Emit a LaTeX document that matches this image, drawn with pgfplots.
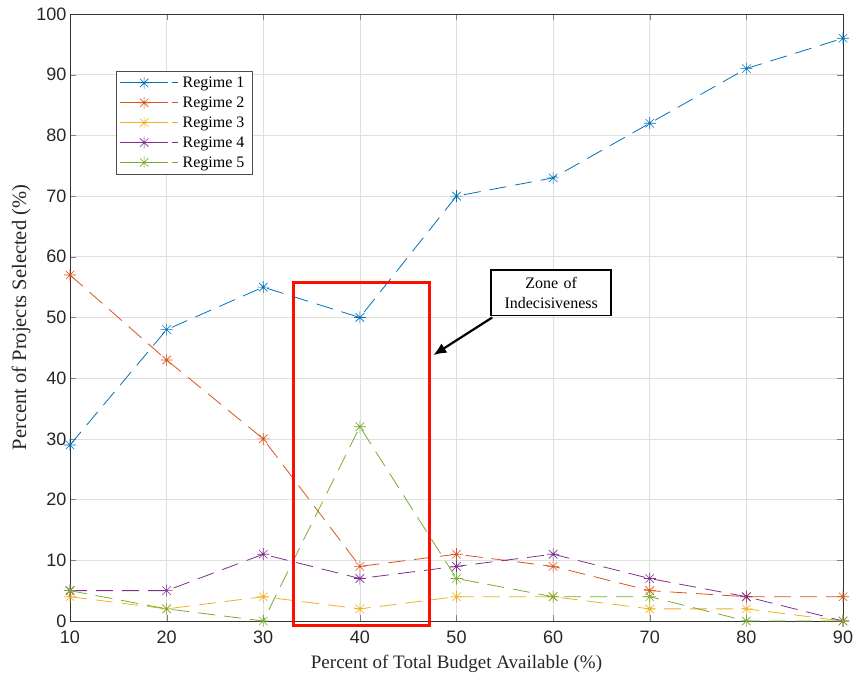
\documentclass[border=0pt]{standalone}
\usepackage{fontspec}
\setmainfont{Liberation Serif}
\setsansfont{Liberation Sans}
\usepackage{pgfplots}
\usetikzlibrary{arrows.meta}
\pgfplotsset{compat=1.18}
\definecolor{c1}{rgb}{0,0.447,0.741}
\definecolor{c2}{rgb}{0.85,0.325,0.098}
\definecolor{c3}{rgb}{0.929,0.694,0.125}
\definecolor{c4}{rgb}{0.494,0.184,0.556}
\definecolor{c5}{rgb}{0.466,0.674,0.188}
\pgfdeclareplotmark{mstar}{%
  \pgfpathmoveto{\pgfqpoint{-\pgfplotmarksize}{0pt}}\pgfpathlineto{\pgfqpoint{\pgfplotmarksize}{0pt}}%
  \pgfpathmoveto{\pgfqpoint{0pt}{-\pgfplotmarksize}}\pgfpathlineto{\pgfqpoint{0pt}{\pgfplotmarksize}}%
  \pgfpathmoveto{\pgfqpoint{-0.707\pgfplotmarksize}{-0.707\pgfplotmarksize}}\pgfpathlineto{\pgfqpoint{0.707\pgfplotmarksize}{0.707\pgfplotmarksize}}%
  \pgfpathmoveto{\pgfqpoint{-0.707\pgfplotmarksize}{0.707\pgfplotmarksize}}\pgfpathlineto{\pgfqpoint{0.707\pgfplotmarksize}{-0.707\pgfplotmarksize}}%
  \pgfusepathqstroke}
\begin{document}
\begin{tikzpicture}
\begin{axis}[
  scale only axis, width=773pt, height=607pt,
  xmin=10, xmax=90, ymin=0, ymax=100,
  xtick={10,20,...,90}, ytick={0,10,...,100},
  grid=major, major grid style={gray!25, line width=0.6pt},
  tick align=inside, major tick length=6pt,
  axis line style={black!80, line width=0.7pt},
  /pgf/number format/assume math mode=true,
  tick label style={font=\sffamily\fontsize{18}{18}\selectfont, black!85},
  xticklabel style={yshift=-6pt},
  xlabel={Percent of Total Budget Available (\%)},
  ylabel={Percent of Projects Selected (\%)},
  xlabel style={font=\fontsize{19}{20}\selectfont, black!85, yshift=-5pt},
  ylabel style={font=\fontsize{20.5}{21}\selectfont, black!85, yshift=-1pt},
  clip=false,
  legend style={at={(0.0595,0.906)}, anchor=north west, draw=black!70, line width=0.6pt,
    font=\fontsize{16}{16}\selectfont, row sep=3.8pt, inner sep=3.5pt,
    nodes={inner xsep=4pt}},
  legend cell align=left,
  every axis plot/.append style={line width=0.8pt, dash pattern=on 17pt off 9pt, mark=mstar, mark size=6pt,
     mark options={solid, line width=0.6pt}},
  legend image code/.code={\draw[mark repeat=2,mark phase=2, solid] plot coordinates {(0pt,0pt) (24pt,0pt) (48pt,0pt)}; \path (0pt,0pt) -- (58pt,0pt);},
]
\addplot[c1] coordinates {(10,29)(20,48)(30,55)(40,50)(50,70)(60,73)(70,82)(80,91)(90,96)};
\addplot[c2] coordinates {(10,57)(20,43)(30,30)(40,9)(50,11)(60,9)(70,5)(80,4)(90,4)};
\addplot[c3] coordinates {(10,4)(20,2)(30,4)(40,2)(50,4)(60,4)(70,2)(80,2)(90,0)};
\addplot[c4] coordinates {(10,5)(20,5)(30,11)(40,7)(50,9)(60,11)(70,7)(80,4)(90,0)};
\addplot[c5] coordinates {(10,5)(20,2)(30,0)(40,32)(50,7)(60,4)(70,4)(80,0)(90,0)};
\legend{Regime 1, Regime 2, Regime 3, Regime 4, Regime 5}
\draw[red!90!orange, line width=3pt] (axis cs:33.1,-0.8) rectangle (axis cs:47.2,55.8);
\node[draw=black, line width=1.6pt, fill=white, align=center, inner xsep=4pt, inner ysep=7pt,
  font=\fontsize{16}{20}\selectfont, text width=112pt] (zb) at (axis cs:59.8,54.1) {Zone of\\Indecisiveness};
\draw[-{Latex[length=13pt,width=11pt]}, line width=2.2pt, black] (axis cs:53.7,50.0) -- (axis cs:47.6,43.8);
\end{axis}
\path ([shift={(-70pt,-60pt)}]current axis.south west) rectangle ([shift={(14pt,14pt)}]current axis.north east);
\end{tikzpicture}
\end{document}
